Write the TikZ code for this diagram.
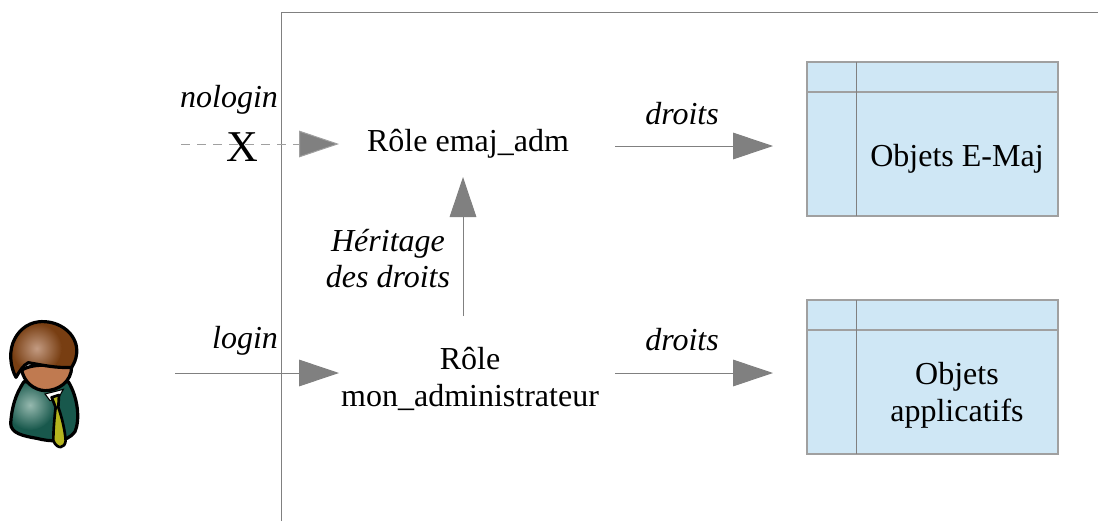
\documentclass[tikz,border=0pt]{standalone}
\usepackage{fontspec}
\setmainfont{Liberation Serif}
\usetikzlibrary{arrows.meta}
\definecolor{linegray}{HTML}{808080}
\definecolor{boxfill}{HTML}{CFE7F5}
\definecolor{boxline}{HTML}{A0A0A0}
\tikzset{
  flow/.style={draw=linegray,line width=.75pt,-{Triangle[length=30pt,width=20pt,fill=linegray]}},
  dashflow/.style={flow,dash pattern=on 7pt off 5pt,draw=boxline},
  frameline/.style={draw=linegray,line width=.75pt},
  rolebox/.style={inner sep=0pt,outer sep=0pt,minimum width=207pt,align=center,font=\fontsize{24}{27.7}\selectfont},
  tablebox/.style={draw=boxline,fill=boxfill,line width=1pt,inner sep=0pt,outer sep=0pt,minimum width=188.25pt,minimum height=115.5pt},
  tabletext/.style={inner sep=0pt,align=center,font=\fontsize{24}{27.7}\selectfont},
  lab/.style={inner sep=0pt,align=center,font=\fontsize{24}{27}\selectfont\itshape},
  personline/.style={draw=black,line width=2.4pt,line join=round}
}
\begin{document}
\begin{tikzpicture}[x=.75pt,y=-.75pt]
\useasboundingbox (0,0) rectangle (1098,521);
% frame
\coordinate (fa) at (281,521);
\coordinate (fb) at (281,12);
\coordinate (fc) at (1098,12);
\draw[frameline] (fa) -- (fb) -- (fc);
% person
\begin{scope}[shift={(0,320)},x=.25pt,y=-.25pt]
 \def\bodypath{(72,185) .. controls (45,225) and (35,265) .. (32,310) .. controls (32,340) and (70,348) .. (110,355) .. controls (150,365) and (200,370) .. (225,335) .. controls (240,300) and (235,235) .. (205,185) -- cycle}
 \begin{scope}
  \clip \bodypath;
  \fill[fill={rgb,255:red,24;green,88;blue,76}] (0,150) rectangle (260,400);
  \shade[inner color={rgb,255:red,150;green,185;blue,175},outer color={rgb,255:red,24;green,88;blue,76}] (90,255) circle (75);
 \end{scope}
 \draw[personline] \bodypath;
 \fill[white,draw=black,line width=.8pt] (135,222) -- (190,208) -- (175,235) -- (150,242) -- cycle;
 \filldraw[fill={rgb,255:red,181;green,181;blue,30},draw=black,line width=2pt,line join=round] (155,232) -- (177,225) -- (175,262) .. controls (185,290) and (195,330) .. (197,362) .. controls (195,385) and (172,390) .. (160,362) .. controls (160,330) and (163,295) .. (167,262) -- cycle;
 \def\facepath{(65,150) .. controls (110,125) and (170,140) .. (215,140) .. controls (215,185) and (175,212) .. (135,212) .. controls (100,210) and (72,185) .. (65,150) -- cycle}
 \filldraw[fill={rgb,255:red,192;green,122;blue,80},personline] \facepath;
 \def\hairpath{(48,172) .. controls (30,140) and (25,90) .. (45,55) .. controls (70,10) and (110,3) .. (135,5) .. controls (190,8) and (235,50) .. (230,100) .. controls (228,120) and (222,130) .. (215,142) .. controls (170,145) and (125,135) .. (85,128) .. controls (70,135) and (58,155) .. (48,172) -- cycle}
 \begin{scope}
  \clip \hairpath;
  \fill[fill={rgb,255:red,120;green,62;blue,18}] (0,0) rectangle (260,200);
  \shade[inner color={rgb,255:red,195;green,155;blue,130},outer color={rgb,255:red,120;green,62;blue,18}] (110,85) circle (75);
 \end{scope}
 \draw[personline] \hairpath;
\end{scope}
% tables
\node[tablebox] (tabA) at (932.5,139) {};
\node[tablebox] (tabB) at (932.5,377) {};
\coordinate (aL) at (807,92);
\coordinate (aT) at (856,62);
\coordinate (bL) at (807,330);
\coordinate (bT) at (856,300);
\draw[boxline,line width=1pt] (aL) -- (aL -| tabA.east);
\draw[linegray,line width=.75pt] (aT) -- (aT |- tabA.south);
\draw[boxline,line width=1pt] (bL) -- (bL -| tabB.east);
\draw[linegray,line width=.75pt] (bT) -- (bT |- tabB.south);
\node[tabletext] (tA) at (957,159) {Objets E-Maj};
\node[tabletext] (tB) at (957,395) {Objets\\applicatifs};
% roles
\node[rolebox,minimum height=49.5pt] (adm) at (477,144) {Rôle emaj\_adm\kern13.5pt};
\node[rolebox,minimum height=85.5pt] (mon) at (477,373) {\rule{0pt}{26pt}Rôle\kern10.5pt\\mon\_administrateur\kern10.5pt};
% connectors
\coordinate (noStart) at (181,144);
\coordinate (loStart) at (175,373);
\coordinate (inh) at (463,250);
\draw[dashflow] (noStart) -- (adm.west);
\draw[flow] (loStart) -- (mon.west);
\draw[flow] (mon.north -| inh) -- (adm.south -| inh);
\draw[flow,shorten >=25.5pt] ([yshift=-1.5pt]adm.east) -- ([yshift=-1.5pt]adm.east -| tabA.west);
\draw[flow,shorten >=25.5pt] (mon.east) -- (mon.east -| tabB.west);
% labels
\node[lab] (lNo) at (229,100) {nologin};
\node[inner sep=0pt,font=\fontsize{33}{36}\selectfont] (lX) at (242,147) {X};
\node[lab] (lLo) at (245,340.5) {login};
\node[lab] (lD1) at (682,113.5) {droits};
\node[lab] (lD2) at (682,340) {droits};
\node[lab] (lH) at (388,259) {Héritage\\des droits};
\end{tikzpicture}
\end{document}
